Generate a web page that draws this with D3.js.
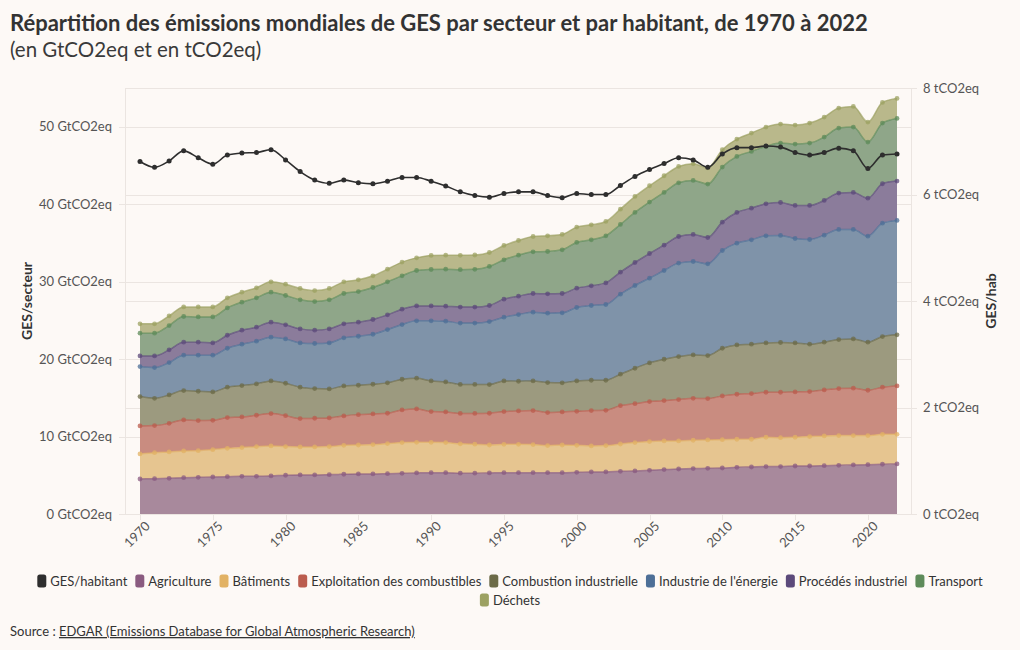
<!DOCTYPE html>
<html>
<head>
<meta charset="utf-8">
<script src="https://cdn.jsdelivr.net/npm/d3@7"></script>
<style>
  html, body { margin: 0; padding: 0; background: #fdf9f6; }
  svg { display: block; font-family: Lato, "Noto Sans", sans-serif; }
</style>
</head>
<body>
<svg id="chart" width="1020" height="650"></svg>
<script>
const years = d3.range(1970, 2023);

const agriculture = [4.52,4.56,4.61,4.69,4.74,4.78,4.82,4.87,4.87,4.91,5.00,5.04,5.04,5.08,5.13,5.17,5.17,5.21,5.25,5.30,
  5.34,5.34,5.27,5.27,5.30,5.34,5.34,5.34,5.34,5.34,5.38,5.43,5.43,5.51,5.56,5.64,5.73,5.81,5.86,
  5.90,5.94,6.03,6.07,6.12,6.12,6.20,6.20,6.24,6.29,6.33,6.37,6.42,6.46];
const batiments = [3.23,3.36,3.40,3.45,3.44,3.53,3.66,3.70,3.83,3.88,3.70,3.62,3.62,3.62,3.74,3.74,3.79,3.88,3.97,3.96,
  3.92,3.88,3.79,3.75,3.61,3.66,3.66,3.62,3.49,3.57,3.49,3.36,3.40,3.53,3.66,3.71,3.70,3.62,3.66,
  3.66,3.66,3.62,3.58,3.79,3.74,3.71,3.79,3.84,3.83,3.79,3.75,3.87,3.83];
const exploitation = [3.62,3.49,3.70,4.00,3.88,3.79,3.97,3.96,4.05,4.17,4.00,3.66,3.70,3.70,3.79,3.92,3.96,3.92,4.22,4.31,
  3.96,3.96,3.92,3.96,4.10,4.22,4.31,4.39,4.26,4.27,4.39,4.56,4.56,4.95,5.03,5.16,5.21,5.34,5.42,
  5.34,5.65,5.81,5.90,5.81,5.86,5.85,5.82,5.94,6.07,6.12,5.86,6.08,6.25];
const combustion = [3.79,3.53,3.66,3.79,3.79,3.66,3.92,4.05,4.05,4.22,4.18,4.05,3.83,3.75,3.88,3.79,3.83,3.92,3.96,3.96,
  3.96,3.87,3.75,3.75,3.70,3.96,3.83,3.83,3.88,3.75,3.92,3.92,3.88,4.06,4.57,5.00,5.34,5.56,5.60,
  5.56,6.15,6.37,6.37,6.37,6.42,6.33,6.11,6.16,6.33,6.37,6.20,6.54,6.59];
const energie = [3.87,3.97,4.18,4.57,4.65,4.74,5.03,5.34,5.51,5.65,5.73,5.72,5.82,5.94,6.20,6.33,6.46,6.88,7.06,7.41,
  7.76,7.84,7.92,7.92,8.14,8.23,8.61,8.88,8.96,9.04,9.48,9.65,9.78,10.33,10.68,10.94,11.46,12.06,12.06,
  11.84,12.62,13.14,13.48,13.83,13.82,13.48,13.52,13.82,14.22,14.13,13.69,14.64,14.77];
const procedes = [1.38,1.50,1.64,1.68,1.68,1.59,1.68,1.81,1.81,1.93,1.81,1.81,1.72,1.81,1.81,1.81,1.90,1.90,1.98,1.93,
  1.93,1.94,2.07,2.07,2.07,2.33,2.37,2.41,2.49,2.50,2.50,2.54,2.79,2.84,2.97,3.18,3.27,3.44,3.49,
  3.40,3.66,3.96,4.09,4.13,4.26,4.27,4.40,4.48,4.69,4.78,4.91,5.09,5.08];
const transport = [2.93,2.93,3.14,3.32,3.27,3.36,3.53,3.62,3.79,3.88,3.79,3.75,3.70,3.75,3.92,3.96,4.13,4.26,4.31,4.57,
  4.70,4.78,4.82,4.87,5.04,5.08,5.30,5.38,5.47,5.64,5.90,5.94,6.08,6.16,6.46,6.64,6.81,6.93,6.98,
  6.89,7.11,7.24,7.32,7.41,7.67,7.92,8.05,8.19,8.40,8.44,7.24,7.83,8.09];
const dechets = [1.21,1.21,1.25,1.24,1.29,1.29,1.30,1.29,1.29,1.33,1.46,1.47,1.42,1.47,1.50,1.51,1.51,1.64,1.77,1.63,
  1.81,1.81,1.86,1.85,1.80,1.85,1.89,1.98,2.03,1.98,1.98,1.94,1.85,1.98,2.07,2.11,2.15,2.11,2.15,
  2.11,2.24,2.24,2.37,2.50,2.45,2.45,2.58,2.58,2.58,2.66,2.58,2.67,2.59];
const gesHabitant = [6.62,6.51,6.63,6.82,6.69,6.57,6.74,6.78,6.79,6.84,6.65,6.43,6.27,6.21,6.27,6.22,6.20,6.25,6.32,6.32,
  6.25,6.16,6.05,5.98,5.95,6.02,6.05,6.05,5.98,5.94,6.02,6.00,6.00,6.17,6.34,6.47,6.58,6.69,6.65,
  6.51,6.76,6.88,6.88,6.91,6.89,6.79,6.74,6.79,6.87,6.82,6.49,6.74,6.76];

const sectorNames = ["Agriculture","Bâtiments","Exploitation des combustibles","Combustion industrielle",
  "Industrie de l'énergie","Procédés industriel","Transport","Déchets"];
const sectorValues = [agriculture,batiments,exploitation,combustion,energie,procedes,transport,dechets];
const sectorColors = ["#8a5b80","#e2b264","#bb5c4e","#6c6b48","#4d6f97","#5c4a7b","#5e8b5a","#9ca162"];
const areaColors = ["#a8899c","#e6c590","#c98c80","#9c9a7f","#7f93a9","#8b7c9b","#8fa689","#b9b88b"];
const perCapitaName = "GES/habitant";
const perCapitaColor = "#2e2e2e";

const leftTicks = [0,10,20,30,40,50];
const rightTicks = [0,2,4,6,8];
const xTicks = d3.range(1970, 2021, 5);

const titleText = "Répartition des émissions mondiales de GES par secteur et par habitant, de 1970 à 2022";
const subtitleText = "(en GtCO2eq et en tCO2eq)";
const leftTitle = "GES/secteur";
const rightTitle = "GES/hab";
const sourceLabel = "Source : ";
const sourceLink = "EDGAR (Emissions Database for Global Atmospheric Research)";

// ---------- layout ----------
const plot = {left: 125, right: 911, top: 88, bottom: 514};
const svg = d3.select("#chart");
const gridColor = "#ebe5e1";
const tickText = "#555";

const x = d3.scaleLinear().domain([1970, 2022]).range([140, 897]);
const yL = d3.scaleLinear().domain([0, 55]).range([plot.bottom, plot.top]);
const yR = d3.scaleLinear().domain([0, 8]).range([plot.bottom, plot.top]);

const rows = years.map((yr, i) => {
  const r = {year: yr};
  sectorNames.forEach((n, k) => r[n] = sectorValues[k][i]);
  return r;
});
const stack = d3.stack().keys(sectorNames)(rows);

// ---------- grid ----------
const grid = svg.append("g");
grid.append("rect").attr("x", plot.left + 0.5).attr("y", plot.top + 0.5)
  .attr("width", plot.right - plot.left).attr("height", plot.bottom - plot.top)
  .attr("fill", "none").attr("stroke", gridColor);
grid.selectAll(".gl").data(leftTicks).join("line")
  .attr("x1", plot.left - 6).attr("x2", plot.right)
  .attr("y1", d => Math.round(yL(d)) + 0.5).attr("y2", d => Math.round(yL(d)) + 0.5)
  .attr("stroke", gridColor);
grid.selectAll(".gr").data(rightTicks).join("line")
  .attr("x1", plot.left).attr("x2", plot.right + 6)
  .attr("y1", d => Math.round(yR(d)) + 0.5).attr("y2", d => Math.round(yR(d)) + 0.5)
  .attr("stroke", gridColor);
grid.selectAll(".gx").data(xTicks).join("line")
  .attr("x1", d => Math.round(x(d)) + 0.5).attr("x2", d => Math.round(x(d)) + 0.5)
  .attr("y1", plot.bottom).attr("y2", plot.bottom + 6)
  .attr("stroke", gridColor);

// ---------- axes labels ----------
const axL = svg.append("g").attr("transform", `translate(${plot.left - 10},0)`)
  .call(d3.axisLeft(yL).tickValues(leftTicks).tickSize(0).tickFormat(d => d + " GtCO2eq"));
axL.select(".domain").remove();
axL.selectAll("text").attr("fill", tickText).style("font-size", "13px").style("font-family", "Lato");

const axR = svg.append("g").attr("transform", `translate(${plot.right + 9},0)`)
  .call(d3.axisRight(yR).tickValues(rightTicks).tickSize(0).tickFormat(d => d + " tCO2eq"));
axR.select(".domain").remove();
axR.selectAll("text").attr("fill", tickText).style("font-size", "13px").style("font-family", "Lato");

const axB = svg.append("g").attr("transform", `translate(0,${plot.bottom + 8})`)
  .call(d3.axisBottom(x).tickValues(xTicks).tickSize(0).tickFormat(d3.format("d")));
axB.select(".domain").remove();
axB.selectAll("text").attr("fill", tickText).style("font-size", "13px").style("font-family", "Lato")
  .attr("text-anchor", "end").attr("dx", "0.3em").attr("dy", "0.6em")
  .attr("transform", "rotate(-45)");

svg.append("text").attr("transform", `translate(32,${(plot.top + plot.bottom) / 2}) rotate(-90)`)
  .attr("text-anchor", "middle").attr("font-weight", 700).attr("font-size", 14).attr("fill", "#333")
  .text(leftTitle);
svg.append("text").attr("transform", `translate(996,${(plot.top + plot.bottom) / 2}) rotate(-90)`)
  .attr("text-anchor", "middle").attr("font-weight", 700).attr("font-size", 14).attr("fill", "#333")
  .text(rightTitle);

// ---------- areas ----------
const curve = d3.curveMonotoneX;
const area = d3.area().x(d => x(d.data.year)).y0(d => yL(d[0])).y1(d => yL(d[1])).curve(curve);
const topLine = d3.line().x(d => x(d.data.year)).y(d => yL(d[1])).curve(curve);

const layers = svg.append("g");
stack.forEach((s, k) => {
  layers.append("path").attr("d", area(s)).attr("fill", areaColors[k]);
});
stack.forEach((s, k) => {
  const g = layers.append("g");
  g.append("path").attr("d", topLine(s)).attr("fill", "none")
    .attr("stroke", sectorColors[k]).attr("stroke-opacity", 0.7).attr("stroke-width", 1.5);
  g.selectAll("circle").data(s).join("circle")
    .attr("cx", d => x(d.data.year)).attr("cy", d => yL(d[1])).attr("r", 2.4)
    .attr("fill", sectorColors[k]).attr("fill-opacity", 0.75);
});

// ---------- per capita line ----------
const pcLine = d3.line().x((d, i) => x(years[i])).y(d => yR(d)).curve(curve);
svg.append("path").attr("d", pcLine(gesHabitant)).attr("fill", "none")
  .attr("stroke", perCapitaColor).attr("stroke-width", 1.6);
svg.append("g").selectAll("circle").data(gesHabitant).join("circle")
  .attr("cx", (d, i) => x(years[i])).attr("cy", d => yR(d)).attr("r", 2.5)
  .attr("fill", perCapitaColor);

// ---------- title ----------
svg.append("text").attr("x", 10).attr("y", 31).attr("font-size", 22).attr("font-weight", 700)
  .attr("fill", "#333").text(titleText);
svg.append("text").attr("x", 10).attr("y", 57).attr("font-size", 20.5).attr("fill", "#3a3a3a")
  .text(subtitleText);

// ---------- legend ----------
const legendItems = [{name: perCapitaName, color: perCapitaColor}]
  .concat(sectorNames.map((n, k) => ({name: n, color: sectorColors[k]})));
const legend = svg.append("g");
const fs = 13;
const sw = 9, swGap = 4, itemGap = 8, maxW = 975;
const measured = legendItems.map(it => {
  const t = legend.append("text").attr("font-size", fs).text(it.name);
  const w = t.node().getComputedTextLength();
  t.remove();
  return {...it, w: sw + swGap + w};
});
const lrows = [[]];
let cw = 0;
measured.forEach(m => {
  const add = (lrows[lrows.length - 1].length ? itemGap : 0) + m.w;
  if (cw + add > maxW && lrows[lrows.length - 1].length) { lrows.push([m]); cw = m.w; }
  else { lrows[lrows.length - 1].push(m); cw += add; }
});
lrows.forEach((row, ri) => {
  const total = d3.sum(row, m => m.w) + itemGap * (row.length - 1);
  let cx = 510 - total / 2;
  const cy = 581 + ri * 19;
  row.forEach(m => {
    legend.append("rect").attr("x", cx).attr("y", cy - 6.5).attr("width", sw).attr("height", 13)
      .attr("rx", 2.5).attr("fill", m.color);
    legend.append("text").attr("x", cx + sw + swGap).attr("y", cy).attr("dy", "0.35em")
      .attr("font-size", fs).attr("fill", "#333").text(m.name);
    cx += m.w + itemGap;
  });
});

// ---------- source ----------
const src = svg.append("text").attr("x", 10).attr("y", 636).attr("font-size", 13).attr("fill", "#333");
src.append("tspan").text(sourceLabel);
src.append("tspan").attr("text-decoration", "underline").text(sourceLink);
</script>
</body>
</html>
